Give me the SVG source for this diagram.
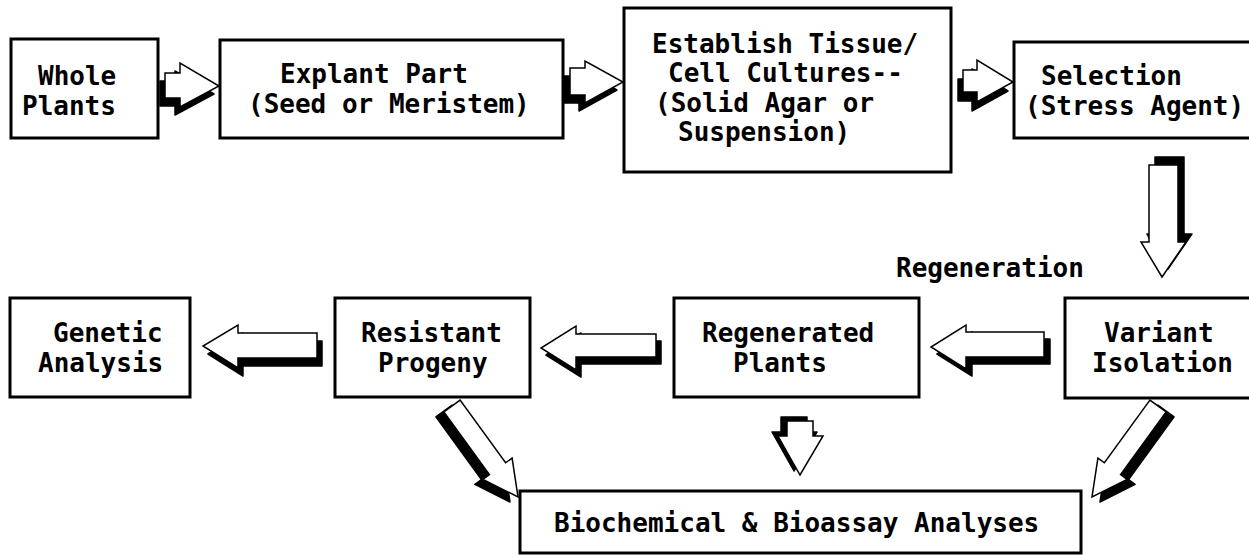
<svg xmlns="http://www.w3.org/2000/svg" xmlns:xlink="http://www.w3.org/1999/xlink" width="1249" height="555" viewBox="0 0 1249 555">
<style>
.box{fill:#fff;stroke:#000;stroke-width:3}
.lbl{font-family:"DejaVu Sans Mono","Liberation Mono",monospace;font-weight:bold;font-size:26px;fill:#000}
.sh{fill:#000;stroke:#000;stroke-width:1.5;stroke-linejoin:round}
.ar{fill:#fff;stroke:#000;stroke-width:1.5;stroke-linejoin:miter}
</style>
<defs>
<polygon id="pA" points="165,73 180,73 180,63 219,86 180,107 180,98 165,98"/>
<polygon id="pB" points="570,68 585,68 585,61 623,82 585,103 585,95 570,95"/>
<polygon id="pC" points="963,70 977,70 977,60 1013,82 977,102 977,92 963,92"/>
<polygon id="pD" points="1149,165 1178,165 1178,242 1186,242 1162,277 1141,242 1149,242"/>
<polygon id="pE" points="1044,332 966,332 966,325 931,347 966,369 966,357 1044,357"/>
<polygon id="pF" points="656,334 576,334 576,326 541,348 576,370 576,357 656,357"/>
<polygon id="pG" points="317,333 238,333 238,325 203,346 238,368 238,358 317,358"/>
<polygon id="pM" points="787,421 813,421 813,436 823,436 800,475 778,436 787,436"/>
<polygon id="pL" points="443.9,411.9 489.4,474.6 482.9,479.3 518,497 512.1,458.1 505.6,462.8 460.1,400.1"/>
<polygon id="pR" points="1149.9,400.1 1104.4,462.8 1097.9,458.1 1092,497 1127.1,479.3 1120.6,474.6 1166.1,411.9"/>
</defs>
<rect x="0" y="0" width="1249" height="555" fill="#fff"/>

<g id="node-whole-plants">
<rect class="box" x="11" y="39" width="147" height="99"/>
<text class="lbl" x="38" y="85">Whole</text>
<text class="lbl" x="22" y="115">Plants</text>
</g>
<g id="node-explant-part">
<rect class="box" x="220" y="40" width="343" height="98"/>
<text class="lbl" x="280" y="83">Explant Part</text>
<text class="lbl" x="248" y="113">(Seed or Meristem)</text>
</g>
<g id="node-establish-cultures">
<rect class="box" x="624" y="8" width="327" height="164"/>
<text class="lbl" x="652" y="53">Establish Tissue/</text>
<text class="lbl" x="668" y="82">Cell Cultures--</text>
<text class="lbl" x="655" y="112">(Solid Agar or</text>
<text class="lbl" x="678" y="141">Suspension)</text>
</g>
<g id="node-selection">
<rect class="box" x="1014" y="42" width="240" height="96"/>
<text class="lbl" x="1041" y="85">Selection</text>
<text class="lbl" x="1025" y="115">(Stress Agent)</text>
</g>
<g id="node-genetic-analysis">
<rect class="box" x="10" y="298" width="180" height="99"/>
<text class="lbl" x="53" y="342">Genetic</text>
<text class="lbl" x="38" y="372">Analysis</text>
</g>
<g id="node-resistant-progeny">
<rect class="box" x="335" y="298" width="195" height="99"/>
<text class="lbl" x="361" y="342">Resistant</text>
<text class="lbl" x="378" y="372">Progeny</text>
</g>
<g id="node-regenerated-plants">
<rect class="box" x="674" y="298" width="245" height="99"/>
<text class="lbl" x="702" y="342">Regenerated</text>
<text class="lbl" x="733" y="372">Plants</text>
</g>
<g id="node-variant-isolation">
<rect class="box" x="1065" y="298" width="190" height="100"/>
<text class="lbl" x="1104" y="342">Variant</text>
<text class="lbl" x="1092" y="372">Isolation</text>
</g>
<g id="node-biochemical">
<rect class="box" x="520" y="491" width="561" height="62"/>
<text class="lbl" x="554" y="532">Biochemical &amp; Bioassay Analyses</text>
</g>

<g id="connectors">
<g id="arrow-whole-explant"><use xlink:href="#pA" class="sh" transform="translate(-5,8)"/><use xlink:href="#pA" class="ar"/></g>
<g id="arrow-explant-establish"><use xlink:href="#pB" class="sh" transform="translate(-6,8)"/><use xlink:href="#pB" class="ar"/></g>
<g id="arrow-establish-selection"><use xlink:href="#pC" class="sh" transform="translate(-5,9)"/><use xlink:href="#pC" class="ar"/></g>
<g id="arrow-selection-variant"><use xlink:href="#pD" class="sh" transform="translate(6,-8)"/><use xlink:href="#pD" class="ar"/></g>
<g id="arrow-variant-regenerated"><use xlink:href="#pE" class="sh" transform="translate(6,7)"/><use xlink:href="#pE" class="ar"/></g>
<g id="arrow-regenerated-resistant"><use xlink:href="#pF" class="sh" transform="translate(5,7)"/><use xlink:href="#pF" class="ar"/></g>
<g id="arrow-resistant-genetic"><use xlink:href="#pG" class="sh" transform="translate(5,8)"/><use xlink:href="#pG" class="ar"/></g>
<g id="arrow-regenerated-biochemical"><use xlink:href="#pM" class="sh" transform="translate(-6,-4)"/><use xlink:href="#pM" class="ar"/></g>
<g id="arrow-resistant-biochemical"><use xlink:href="#pL" class="sh" transform="translate(-8,5)"/><use xlink:href="#pL" class="ar"/></g>
<g id="arrow-variant-biochemical"><use xlink:href="#pR" class="sh" transform="translate(8,5)"/><use xlink:href="#pR" class="ar"/></g>
</g>

<g id="label-regeneration">
<text class="lbl" x="896" y="277">Regeneration</text>
</g>
</svg>
